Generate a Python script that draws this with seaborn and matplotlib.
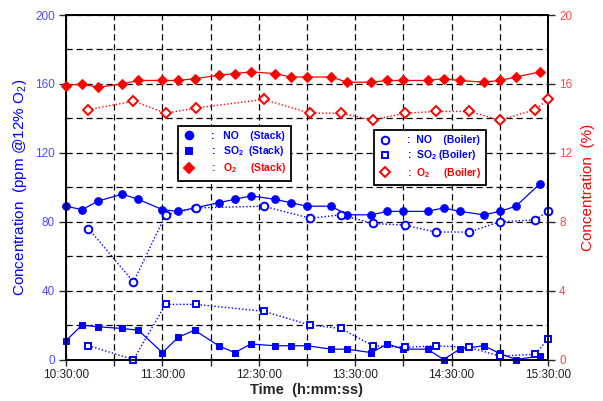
import pandas as pd
import seaborn as sns
import matplotlib.pyplot as plt
import matplotlib.dates as mdates
from matplotlib.lines import Line2D
from matplotlib.ticker import MultipleLocator

sns.set_style('ticks')
plt.rcParams['font.family'] = ['Liberation Sans', 'DejaVu Sans']
plt.rcParams['mathtext.fontset'] = 'custom'
plt.rcParams['mathtext.rm'] = 'Liberation Sans'
plt.rcParams['mathtext.bf'] = 'Liberation Sans:bold'

BLUE = '#0000ff'
RED = '#ff0000'

# stack measurements
stack_time = ['10:30', '10:40', '10:50', '11:05', '11:15', '11:30', '11:40', '11:50',
              '12:05', '12:15', '12:25', '12:40', '12:50', '13:00', '13:15', '13:25',
              '13:40', '13:50', '14:00', '14:15', '14:25', '14:35', '14:50', '15:00',
              '15:10', '15:25']
stack_no = [89, 87, 92, 96, 93, 87, 86, 88, 91, 93, 95, 93, 91, 89, 89, 84,
            84, 86, 86, 86, 88, 86, 84, 86, 89, 102]
stack_so2 = [11, 20, 19, 18, 17, 4, 13, 17, 8, 4, 9, 8, 8, 8, 6, 6,
             4, 9, 6, 6, 0, 6, 8, 3.5, 0, 2]
stack_o2 = [15.9, 16.0, 15.8, 16.0, 16.2, 16.2, 16.2, 16.3, 16.5, 16.6, 16.7, 16.6, 16.4,
            16.4, 16.4, 16.1, 16.1, 16.2, 16.2, 16.2, 16.3, 16.2, 16.1, 16.2, 16.4, 16.7]

# boiler measurements
boiler_time = ['10:44', '11:12', '11:32', '11:51', '12:33', '13:02', '13:21', '13:41',
               '14:01', '14:20', '14:41', '15:00', '15:22', '15:30']
boiler_no = [76, 45, 84, 88, 89, 82, 84, 79, 78, 74, 74, 80, 81, 86]
boiler_so2 = [8, 0, 32, 32, 28, 20, 18, 8, 7, 8, 7, 2, 3, 12]
boiler_o2 = [14.5, 15.0, 14.3, 14.6, 15.1, 14.3, 14.3, 13.9, 14.3, 14.4, 14.4, 13.9, 14.5, 15.1]

stack = pd.DataFrame({'t': pd.to_datetime(['2000-01-01 ' + s for s in stack_time]),
                      'NO': stack_no, 'SO2': stack_so2, 'O2': stack_o2})
boiler = pd.DataFrame({'t': pd.to_datetime(['2000-01-01 ' + s for s in boiler_time]),
                       'NO': boiler_no, 'SO2': boiler_so2, 'O2': boiler_o2})

fig = plt.figure(figsize=(6.03, 4.01), dpi=100)
ax = fig.add_axes([66 / 603, 41.5 / 401, 482 / 603, 344.5 / 401])
ax2 = ax.twinx()

solid = dict(lw=0.9, clip_on=False, zorder=3)
dotted = dict(lw=1.0, ls=(0, (1, 1.5)), clip_on=False, zorder=3,
              markerfacecolor='white', markeredgewidth=1.4)

sns.lineplot(data=stack, x='t', y='NO', ax=ax, color=BLUE, marker='o', ms=5.5,
             markeredgecolor=BLUE, **solid)
sns.lineplot(data=stack, x='t', y='SO2', ax=ax, color=BLUE, marker='s', ms=5,
             markeredgecolor=BLUE, **solid)
sns.lineplot(data=boiler, x='t', y='NO', ax=ax, color=BLUE, marker='o', ms=5.5,
             markeredgecolor=BLUE, **dotted)
sns.lineplot(data=boiler, x='t', y='SO2', ax=ax, color=BLUE, marker='s', ms=5,
             markeredgecolor=BLUE, **dotted)
sns.lineplot(data=stack, x='t', y='O2', ax=ax2, color=RED, marker='D', ms=5,
             markeredgecolor=RED, **solid)
sns.lineplot(data=boiler, x='t', y='O2', ax=ax2, color=RED, marker='D', ms=5,
             markeredgecolor=RED, **dotted)

t0 = pd.Timestamp('2000-01-01 10:30')
t1 = pd.Timestamp('2000-01-01 15:30')
ax.set_xlim(t0, t1)
ax.set_ylim(0, 200)
ax2.set_ylim(0, 20)

ax.xaxis.set_major_locator(mdates.MinuteLocator(byminute=30))
ax.xaxis.set_minor_locator(mdates.MinuteLocator(byminute=0))
ax.xaxis.set_major_formatter(mdates.DateFormatter('%H:%M:%S'))
ax.yaxis.set_major_locator(MultipleLocator(40))
ax.yaxis.set_minor_locator(MultipleLocator(20))
ax2.yaxis.set_major_locator(MultipleLocator(4))
ax2.yaxis.set_minor_locator(MultipleLocator(2))

grid = dict(color='black', lw=0.9, ls=(0, (5, 3)))
ax.grid(True, which='both', **grid)
ax2.grid(False)

for a in (ax, ax2):
    for sp in a.spines.values():
        sp.set_visible(True)
        sp.set_color('black')
        sp.set_linewidth(1.3)

ax.tick_params(axis='x', which='both', direction='out', length=4, width=1,
               labelsize=8.5, labelcolor='#222222', pad=3)
ax.tick_params(axis='y', which='major', direction='out', length=5, width=1,
               labelsize=8.5, labelcolor='#4b4bff', pad=3)
ax.tick_params(axis='y', which='minor', length=0)
ax2.tick_params(axis='y', which='major', direction='out', length=5, width=1,
                labelsize=8.5, labelcolor='#ff4b4b', pad=3)
ax2.tick_params(axis='y', which='minor', length=0)

ax.set_xlabel('Time  (h:mm:ss)', fontsize=10.5, fontweight='bold', labelpad=1)
ax.set_ylabel(r'Concentration  (ppm @12% O$_\mathrm{2}$)', fontsize=11, color=BLUE, labelpad=4)
ax2.set_ylabel('Concentration  (%)', fontsize=11, color=RED, labelpad=6)


def marker_handle(marker, color, filled, ms):
    return Line2D([], [], ls='none', marker=marker, color=color, ms=ms,
                  markeredgecolor=color, markeredgewidth=1.4,
                  markerfacecolor=color if filled else 'white')


lg_kw = dict(loc='upper left', borderaxespad=0, frameon=True,
             fancybox=False, edgecolor='black', framealpha=1,
             handlelength=1.2, handletextpad=1.5, labelspacing=0.3,
             borderpad=0.5, prop={'weight': 'bold', 'size': 7.5})

h1 = [marker_handle('o', BLUE, True, 5.5), marker_handle('s', BLUE, True, 4.5),
      marker_handle('D', RED, True, 5)]
l1 = [':   NO    (Stack)', r':   SO$_\mathbf{2}$  (Stack)', r':   O$_\mathbf{2}$     (Stack)']
leg1 = ax2.legend(h1, l1, bbox_to_anchor=(0.232, 0.678), **lg_kw)
leg1.get_frame().set_linewidth(1.3)
for txt, c in zip(leg1.get_texts(), [BLUE, BLUE, RED]):
    txt.set_color(c)
ax2.add_artist(leg1)

h2 = [marker_handle('o', BLUE, False, 5.5), marker_handle('s', BLUE, False, 4.5),
      marker_handle('D', RED, False, 5)]
l2 = [':  NO    (Boiler)', r':  SO$_\mathbf{2}$ (Boiler)', r':  O$_\mathbf{2}$     (Boiler)']
leg2 = ax2.legend(h2, l2, bbox_to_anchor=(0.639, 0.666), **lg_kw)
leg2.get_frame().set_linewidth(1.3)
for txt, c in zip(leg2.get_texts(), [BLUE, BLUE, RED]):
    txt.set_color(c)

fig.savefig('out.png', dpi=100)
